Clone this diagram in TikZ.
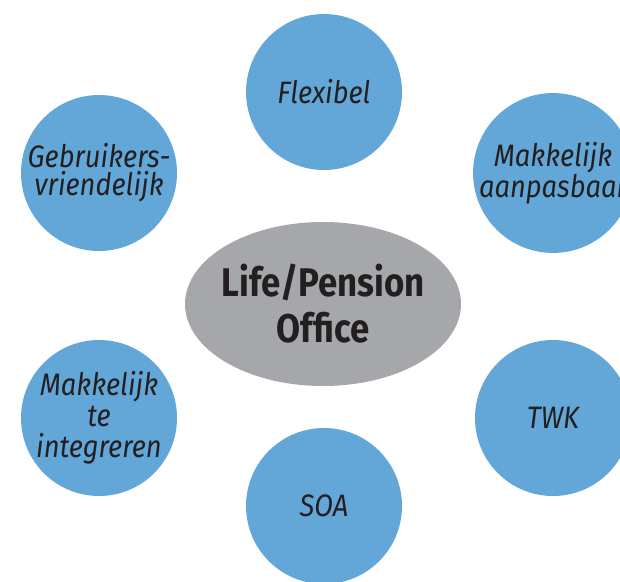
\documentclass[tikz,border=0pt]{standalone}
\usepackage{fontspec}
\usetikzlibrary{shapes.geometric}

\newfontfamily\bubblefont[FakeStretch=0.88]{Fira Sans}
\newfontfamily\hubfont[FakeStretch=0.87]{Fira Sans}

\definecolor{bubbleblue}{RGB}{99,167,217}
\definecolor{hubgray}{RGB}{166,167,171}
\definecolor{inkdark}{RGB}{35,31,32}

\begin{document}
\begin{tikzpicture}[
  x = 1pt,
  y = -1pt,
  bubble/.style = {
    shape = circle,
    fill = bubbleblue,
    text = inkdark,
    minimum size = 156pt,
    inner sep = 0pt,
    outer sep = 0pt,
    align = center,
    font = \bubblefont\itshape\fontsize{31}{28}\selectfont,
  },
  hub/.style = {
    shape = ellipse,
    fill = hubgray,
    text = inkdark,
    minimum width = 276pt,
    minimum height = 164pt,
    inner xsep = -20pt,
    inner ysep = 0pt,
    outer sep = 0pt,
    align = center,
    font = \hubfont\bfseries\fontsize{40}{46}\selectfont,
  }
]
  \useasboundingbox (0, 0) rectangle (620, 581);

  \node[hub] (office) at (323, 304) {Life/Pension\\Office};

  \node[bubble] (flexibel) at (324, 92) {Flexibel};
  \node[bubble] (gebruik) at (99, 173) {Gebruikers-\\vriendelijk};
  \node[bubble] (aanpas) at (553, 173) {Makkelijk\\aanpasbaar};
  \node[bubble, font = \bubblefont\itshape\fontsize{31}{31}\selectfont]
    (integr) at (99, 418) {Makkelijk\\te\\integreren};
  \node[bubble] (twk) at (553, 418) {TWK};
  \node[bubble] (soa) at (324, 506) {SOA};
\end{tikzpicture}
\end{document}
